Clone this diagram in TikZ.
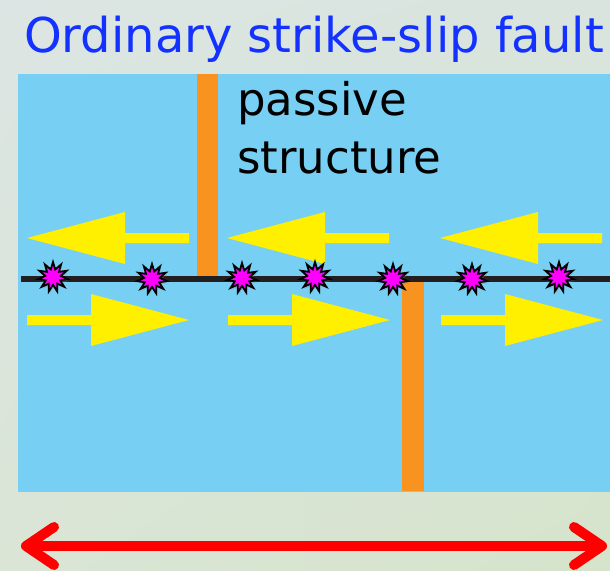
\documentclass[tikz,border=0pt]{standalone}
\usepackage{fontspec}
\setmainfont{DejaVu Sans}
\usetikzlibrary{arrows.meta,positioning,shapes.geometric,shadows,shadings}
\definecolor{PaleSky}{RGB}{220,229,227}
\definecolor{PaleSage}{RGB}{214,228,203}
\definecolor{PaleMint}{RGB}{218,229,214}
\definecolor{PaleFog}{RGB}{217,228,222}
\definecolor{CrustBlue}{RGB}{119,207,243}
\definecolor{DikeOrange}{RGB}{247,147,30}
\definecolor{FaultBlack}{RGB}{35,31,32}
\definecolor{SlipYellow}{RGB}{255,240,0}
\definecolor{TitleBlue}{RGB}{20,50,255}
\definecolor{QuakePink}{RGB}{255,0,255}
\tikzset{
  barrier/.style={fill=DikeOrange},
  fault/.style={draw=FaultBlack,line width=6pt},
  slip/.style={fill=SlipYellow},
  quake/.style={star,star points=11,star point ratio=1.9,minimum size=30pt,
    inner sep=0pt,fill=QuakePink,draw=black,line width=1.8pt,
    drop shadow={opacity=0.35,shadow xshift=1pt,shadow yshift=-2pt}},
  span/.style={red,line width=10pt,
    {Straight Barb[length=28pt,width=38pt,round]}-{Straight Barb[length=28pt,width=38pt,round]}}
}
\begin{document}
\begin{tikzpicture}[x=1pt,y=-1pt]
  \useasboundingbox (0,0) rectangle (610,570);
  % background and crust block
  \shade[upper left=PaleSky,upper right=PaleFog,lower left=PaleMint,lower right=PaleSage]
    (0,0) rectangle (610,570);
  \fill[CrustBlue] (18,74) rectangle (610,492);
  % title
  \node[font=\fontsize{48}{56}\selectfont,text=TitleBlue,anchor=base] (title) at (314,52) {Ordinary strike-slip fault};
  % offset marker (passive structure)
  \fill[barrier] (197,74) rectangle (218,276);
  \fill[barrier] (402,282) rectangle (424,491);
  \node[font=\fontsize{45}{54}\selectfont,anchor=base west,inner sep=0pt] (passive) at (237,115) {passive};
  \node[font=\fontsize{45}{54}\selectfont,anchor=base west,inner sep=0pt] (structure) at ([yshift=-58pt]passive.base west) {structure};
  % slip arrows, upper block moves left
  \foreach \x in {27,227,440}
    \fill[slip] (\x,238) -- (\x+98,212) -- (\x+98,233) -- (\x+162,233)
      -- (\x+162,243) -- (\x+98,243) -- (\x+98,264) -- cycle;
  % lower block moves right
  \foreach \x in {27,228,441}
    \fill[slip] (\x+162,320) -- (\x+64,294) -- (\x+64,315) -- (\x,315)
      -- (\x,325) -- (\x+64,325) -- (\x+64,346) -- cycle;
  % fault trace
  \coordinate (faultwest) at (21,279);
  \coordinate (faulteast) at (610,279);
  \draw[fault] (faultwest) -- (faulteast);
  % earthquakes along the fault
  \foreach \x/\y [count=\i] in {53/277,152/279,242/278,315/277,393/279,472/279,559/277}
    \node[quake] (quake\i) at (\x,\y) {};
  % width of the fault zone
  \coordinate (spanwest) at (21,546);
  \coordinate (spaneast) at (607,546);
  \draw[span] (spanwest) -- (spaneast);
\end{tikzpicture}
\end{document}
